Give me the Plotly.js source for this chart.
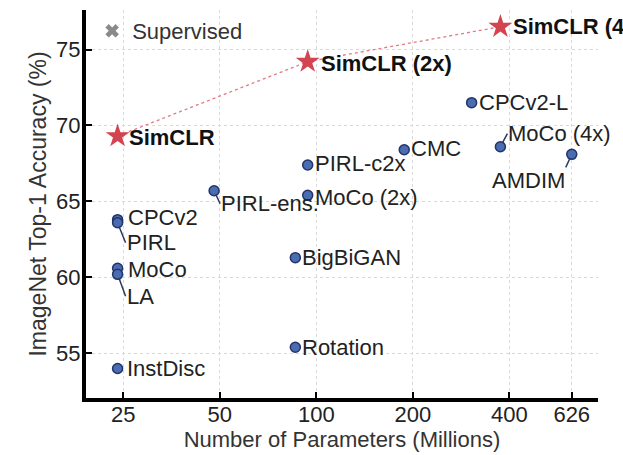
<!DOCTYPE html>
<html>
<head>
<meta charset="utf-8">
<script src="https://cdn.plot.ly/plotly-3.0.1.min.js"></script>
<style>html,body{margin:0;padding:0;background:#fff;}#chart{width:623px;height:455px;}</style>
</head>
<body>
<div id="chart"></div>
<script>
// SimCLR series
const simNames = ["SimCLR", "SimCLR (2x)", "SimCLR (4x)"];
const simParams = [24, 94, 375];
const simAcc = [69.3, 74.2, 76.5];

// Other methods
const methodNames = ["CPCv2", "PIRL", "MoCo", "LA", "InstDisc", "PIRL-ens.", "PIRL-c2x", "MoCo (2x)", "BigBiGAN", "Rotation", "CMC", "CPCv2-L", "MoCo (4x)", "AMDIM"];
const methodParams = [24, 24, 24, 24, 24, 48, 94, 94, 86, 86, 188, 305, 375, 626];
const methodAcc = [63.8, 63.6, 60.6, 60.2, 54.0, 65.7, 67.4, 65.4, 61.3, 55.4, 68.4, 71.5, 68.6, 68.1];

// Tick labels
const xTicks = [25, 50, 100, 200, 400, 626];
const yTicks = [55, 60, 65, 70, 75];

const FONT = "Liberation Sans, Arial, Helvetica, sans-serif";
const FS = 22;

// label placement: [dx, dy, leader, xanchor, yanchor]
const methodLabelPos = {
  "CPCv2": [8, -2, false],
  "PIRL": [8, 20, true, "left", "middle"],
  "MoCo": [8, 1, false],
  "LA": [8, 22, true, "left", "middle"],
  "InstDisc": [7, 0, false],
  "PIRL-ens.": [6, 13, true, "left", "middle"],
  "PIRL-c2x": [5, -1, false],
  "MoCo (2x)": [5, 2, false],
  "BigBiGAN": [5, 0, false],
  "Rotation": [5, 0, false],
  "CMC": [5, -1, false],
  "CPCv2-L": [5, 0, false],
  "MoCo (4x)": [7, -13, true, "left", "middle"],
  "AMDIM": [-6, 13, true, "right", "top"]
};
const simLabelPos = {
  "SimCLR": [9, 1],
  "SimCLR (2x)": [11, 2],
  "SimCLR (4x)": [11, 0]
};

const annotations = [];
simNames.forEach((n, i) => {
  const p = simLabelPos[n];
  annotations.push({
    x: Math.log10(simParams[i]), y: simAcc[i], xref: "x", yref: "y",
    text: "<b>" + n + "</b>", showarrow: false,
    xanchor: "left", yanchor: "middle", xshift: p[0], yshift: -p[1],
    font: {family: FONT, size: FS, color: "#111"}
  });
});
methodNames.forEach((n, i) => {
  const p = methodLabelPos[n];
  if (p[2]) {
    annotations.push({
      x: Math.log10(methodParams[i]), y: methodAcc[i], xref: "x", yref: "y",
      text: n, showarrow: true, arrowhead: 0, arrowwidth: 1.5, arrowcolor: "#2b3b5e",
      ax: p[0], ay: p[1], standoff: 4, xanchor: p[3], yanchor: p[4],
      borderpad: 0,
      font: {family: FONT, size: FS, color: "#222"}
    });
  } else {
    annotations.push({
      x: Math.log10(methodParams[i]), y: methodAcc[i], xref: "x", yref: "y",
      text: n, showarrow: false,
      xanchor: "left", yanchor: "middle", xshift: p[0], yshift: -p[1],
      font: {family: FONT, size: FS, color: "#222"}
    });
  }
});

const traces = [
  {
    x: [null], y: [null], type: "scatter", mode: "markers", name: "Supervised",
    marker: {symbol: "x", size: 12, color: "#8a8a8a"}, showlegend: true, hoverinfo: "skip"
  },
  {
    x: simParams, y: simAcc, type: "scatter", mode: "lines", showlegend: false,
    line: {color: "#e07a84", width: 1.3, dash: "dot"}, hoverinfo: "skip"
  },
  {
    x: methodParams, y: methodAcc, type: "scatter", mode: "markers", showlegend: false,
    marker: {symbol: "circle", size: 10, color: "#4a6cb0", line: {color: "#22346a", width: 1.5}}
  },
  {
    x: simParams, y: simAcc, type: "scatter", mode: "markers", showlegend: false,
    marker: {symbol: "star", size: 18, color: "#d2444f", line: {width: 0}}
  }
];

const layout = {
  width: 623, height: 455,
  margin: {l: 86, r: 25, t: 10, b: 57},
  paper_bgcolor: "#fff", plot_bgcolor: "#fff",
  font: {family: FONT, size: FS, color: "#222"},
  showlegend: true,
  legend: {x: 0.012, y: 1.0, xanchor: "left", yanchor: "top", bgcolor: "rgba(0,0,0,0)",
           font: {family: FONT, size: FS, color: "#333"}, itemwidth: 30,
           tracegroupgap: 0, borderwidth: 0},
  xaxis: {
    type: "log", range: [1.2817, 2.8784],
    tickvals: xTicks, ticktext: xTicks.map(String),
    showline: true, linecolor: "#000", linewidth: 4,
    ticks: "inside", ticklen: 6, tickwidth: 2, tickcolor: "#000",
    ticklabelstandoff: -6,
    showgrid: true, gridcolor: "#d9d9d9", gridwidth: 1, griddash: "dot",
    zeroline: false, tickfont: {family: FONT, size: FS, color: "#222"},
    title: {text: "Number of Parameters (Millions)", font: {family: FONT, size: FS, color: "#333"}, standoff: 4}
  },
  yaxis: {
    range: [52.06, 77.6],
    tickvals: yTicks, ticktext: yTicks.map(String),
    showline: true, linecolor: "#000", linewidth: 4,
    ticks: "inside", ticklen: 6, tickwidth: 2, tickcolor: "#000",
    ticklabelstandoff: -3,
    showgrid: true, gridcolor: "#d9d9d9", gridwidth: 1, griddash: "dot",
    zeroline: false, tickfont: {family: FONT, size: FS, color: "#222"},
    title: {text: "ImageNet Top-1 Accuracy (%)", font: {family: FONT, size: 23, color: "#333"}, standoff: 4}
  },
  annotations: annotations
};

Plotly.newPlot("chart", traces, layout, {displayModeBar: false, staticPlot: true});
</script>
</body>
</html>
